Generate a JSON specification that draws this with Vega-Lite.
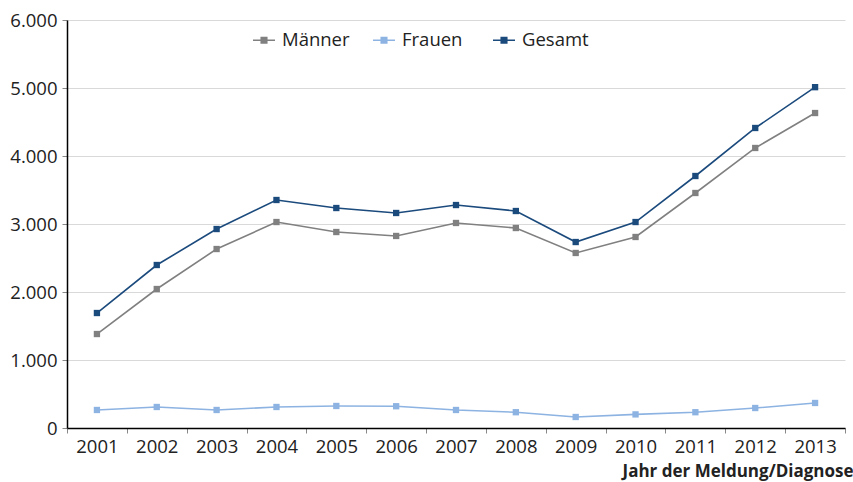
{
  "$schema": "https://vega.github.io/schema/vega-lite/v6.json",
  "width": 778,
  "height": 408,
  "autosize": "none",
  "padding": {"left": 67, "top": 20, "right": 8, "bottom": 54},
  "background": "white",
  "config": {
    "locale": {"number": {"decimal": ",", "thousands": ".", "grouping": [3], "currency": ["", " €"]}},
    "font": "Open Sans",
    "view": {"stroke": null}
  },
  "data": {
    "values": [
      {"Jahr": "2001", "Gruppe": "Männer", "Wert": 1382},
      {"Jahr": "2002", "Gruppe": "Männer", "Wert": 2044},
      {"Jahr": "2003", "Gruppe": "Männer", "Wert": 2632},
      {"Jahr": "2004", "Gruppe": "Männer", "Wert": 3029},
      {"Jahr": "2005", "Gruppe": "Männer", "Wert": 2882},
      {"Jahr": "2006", "Gruppe": "Männer", "Wert": 2824},
      {"Jahr": "2007", "Gruppe": "Männer", "Wert": 3015},
      {"Jahr": "2008", "Gruppe": "Männer", "Wert": 2941},
      {"Jahr": "2009", "Gruppe": "Männer", "Wert": 2574},
      {"Jahr": "2010", "Gruppe": "Männer", "Wert": 2809},
      {"Jahr": "2011", "Gruppe": "Männer", "Wert": 3456},
      {"Jahr": "2012", "Gruppe": "Männer", "Wert": 4118},
      {"Jahr": "2013", "Gruppe": "Männer", "Wert": 4632},
      {"Jahr": "2001", "Gruppe": "Frauen", "Wert": 265},
      {"Jahr": "2002", "Gruppe": "Frauen", "Wert": 309},
      {"Jahr": "2003", "Gruppe": "Frauen", "Wert": 265},
      {"Jahr": "2004", "Gruppe": "Frauen", "Wert": 309},
      {"Jahr": "2005", "Gruppe": "Frauen", "Wert": 324},
      {"Jahr": "2006", "Gruppe": "Frauen", "Wert": 320},
      {"Jahr": "2007", "Gruppe": "Frauen", "Wert": 265},
      {"Jahr": "2008", "Gruppe": "Frauen", "Wert": 232},
      {"Jahr": "2009", "Gruppe": "Frauen", "Wert": 162},
      {"Jahr": "2010", "Gruppe": "Frauen", "Wert": 200},
      {"Jahr": "2011", "Gruppe": "Frauen", "Wert": 232},
      {"Jahr": "2012", "Gruppe": "Frauen", "Wert": 294},
      {"Jahr": "2013", "Gruppe": "Frauen", "Wert": 368},
      {"Jahr": "2001", "Gruppe": "Gesamt", "Wert": 1691},
      {"Jahr": "2002", "Gruppe": "Gesamt", "Wert": 2397},
      {"Jahr": "2003", "Gruppe": "Gesamt", "Wert": 2926},
      {"Jahr": "2004", "Gruppe": "Gesamt", "Wert": 3353},
      {"Jahr": "2005", "Gruppe": "Gesamt", "Wert": 3235},
      {"Jahr": "2006", "Gruppe": "Gesamt", "Wert": 3162},
      {"Jahr": "2007", "Gruppe": "Gesamt", "Wert": 3279},
      {"Jahr": "2008", "Gruppe": "Gesamt", "Wert": 3191},
      {"Jahr": "2009", "Gruppe": "Gesamt", "Wert": 2735},
      {"Jahr": "2010", "Gruppe": "Gesamt", "Wert": 3029},
      {"Jahr": "2011", "Gruppe": "Gesamt", "Wert": 3706},
      {"Jahr": "2012", "Gruppe": "Gesamt", "Wert": 4412},
      {"Jahr": "2013", "Gruppe": "Gesamt", "Wert": 5012}
    ]
  },
  "mark": {"type": "line", "strokeWidth": 1.6, "point": {"shape": "square", "size": 40, "filled": true, "opacity": 1}},
  "encoding": {
    "x": {
      "field": "Jahr", "type": "ordinal",
      "scale": {"type": "band", "paddingInner": 0, "paddingOuter": 0},
      "axis": {
        "title": "Jahr der Meldung/Diagnose",
        "titleFont": "Open Sans", "titleFontSize": 17, "titleFontWeight": "bold", "titleColor": "#222",
        "titleAnchor": "end", "titleAlign": "right", "titleX": 786, "titleY": 43, "titleBaseline": "middle",
        "labelAngle": 0, "labelFontSize": 18.5, "labelColor": "#222", "labelPadding": 4,
        "domainColor": "#000", "domainWidth": 1.5,
        "tickBand": "extent", "tickColor": "#888", "tickSize": 5, "ticks": true,
        "grid": false
      }
    },
    "y": {
      "field": "Wert", "type": "quantitative",
      "scale": {"domain": [0, 6000], "nice": false},
      "axis": {
        "title": null, "values": [0, 1000, 2000, 3000, 4000, 5000, 6000], "format": ",d",
        "labelFontSize": 18.5, "labelColor": "#222", "labelPadding": 5,
        "domainColor": "#000", "domainWidth": 1.5,
        "tickColor": "#888", "tickSize": 5,
        "gridColor": "#d9d9d9", "gridWidth": 1
      }
    },
    "color": {
      "field": "Gruppe", "type": "nominal",
      "sort": ["Männer", "Frauen", "Gesamt"],
      "scale": {"domain": ["Männer", "Frauen", "Gesamt"], "range": ["#808080", "#8db3e2", "#1b4a7d"]},
      "legend": {
        "title": null, "orient": "none", "legendX": 185, "legendY": 8,
        "direction": "horizontal", "columns": 3, "gridAlign": "all", "columnPadding": 19,
        "symbolType": "M-1,0H1M-0.25,-0.25H0.25V0.25H-0.25Z",
        "symbolSize": 484, "symbolStrokeWidth": 1.6,
        "labelFontSize": 18.5, "labelColor": "#222", "labelOffset": 6,
        "encode": {"symbols": {"update": {"fill": {"scale": "color", "field": "value"}, "fillOpacity": {"value": 1}}}}
      }
    }
  }
}
